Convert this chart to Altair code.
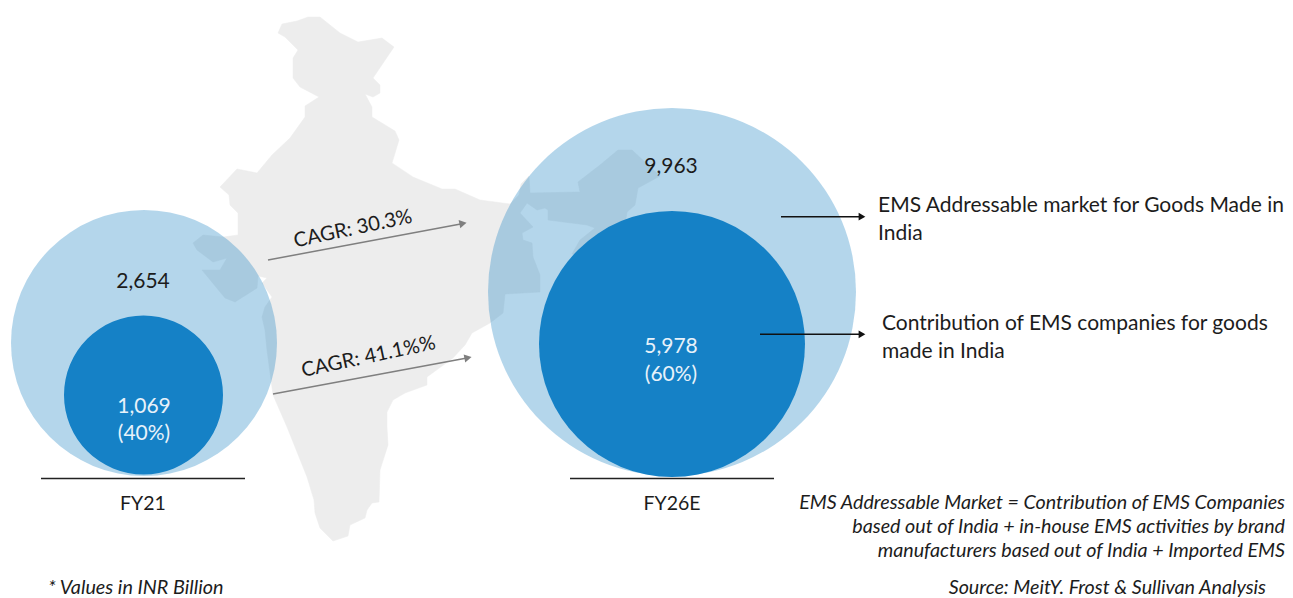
import altair as alt
import pandas as pd

# Reference frame of the picture: the chart is laid out in the image's own units
X_DOMAIN = [8, 1285]
Y_DOMAIN = [598, 8]

map_x = [308,320,340,358,382,394,373,380,380,373,365,372,372,395,399,392,413,442,455,480,510,519,521,529,530,
         580,578,600,618,632,660,638,635,627,620,572,580,595,587,548,548,545,537,527,520,533,522,523,532,533,540,540,
         505,503,490,472,465,453,427,427,405,393,387,387,388,380,379,372,367,365,350,348,333,320,315,314,307,287,273,
         267,265,262,265,272,262,267,258,257,235,225,202,220,227,213,197,193,203,223,238,238,230,229,220,237,257,272,
         290,305,305,319,300,293,293,298,285,278,282,297,308]
map_y = [17,17,33,42,38,47,78,85,93,97,94,107,117,131,140,163,177,189,189,200,204,195,184,176,193,
         192,182,165,150,150,176,188,205,212,260,254,240,228,225,220,210,208,210,203,213,227,233,240,243,257,275,292,
         294,313,323,333,345,358,377,385,393,400,412,427,445,470,502,503,510,518,525,536,541,528,513,500,477,427,395,
         350,330,317,307,297,283,278,276,288,302,298,270,270,258,262,250,243,235,237,235,213,205,195,187,169,173,155,
         138,117,106,97,87,78,58,50,37,33,24,21,17]

circle_x = [144, 672]
circle_y = [343, 292]
circle_d = [266, 368]
inner_x = [143.5, 672]
inner_y = [395, 344]
inner_d = [159, 266]

base_x = [41, 570]
base_x2 = [245, 774]
base_y = [478.5, 478.5]

grey_x = [268, 273]
grey_x2 = [462, 467]
grey_y = [260, 394]
grey_y2 = [223.7, 358]
grey_head_x = [463, 468]
grey_head_y = [223.5, 357.8]

black_x = [781, 760]
black_x2 = [862, 862]
black_y = [216.7, 334.3]
black_head_x = [862, 862]

center_texts = ["2,654", "9,963"]
center_x = [143, 671]
center_y = [282, 167]
fy_texts = ["FY21", "FY26E"]
fy_x = [143, 672]
fy_y = [504, 504]
white_texts = ["1,069", "(40%)", "5,978", "(60%)"]
white_x = [144, 144, 671, 671]
white_y = [407, 434, 347, 375]
cagr_texts = ["CAGR: 30.3%", "CAGR: 41.1%%"]
cagr_x = [353, 368.5]
cagr_y = [229, 357]
left_texts = ["EMS Addressable market for Goods Made in", "India",
              "Contribution of EMS companies for goods", "made in India"]
left_x = [878, 878, 882, 882]
left_y = [206, 234, 324, 352]
note_texts = ["EMS Addressable Market = Contribution of EMS Companies",
              "based out of India + in-house EMS activities by brand",
              "manufacturers based out of India + Imported EMS",
              "Source: MeitY. Frost & Sullivan Analysis"]
note_x = [1285, 1285, 1285, 1266]
note_y = [503, 527, 551, 588]
foot_texts = ["* Values in INR Billion"]
foot_x = [48]
foot_y = [588]

FONT = "Lato"
X = alt.X("x:Q", scale=alt.Scale(domain=X_DOMAIN, nice=False, zero=False), axis=None)
Y = alt.Y("y:Q", scale=alt.Scale(domain=Y_DOMAIN, nice=False, zero=False), axis=None)

df_map = pd.DataFrame({"x": map_x, "y": map_y, "o": range(len(map_x))})
india = alt.Chart(df_map).mark_line(fill="#ededed", stroke="#ededed", strokeWidth=0.5, interpolate="linear-closed").encode(
    x=X, y=Y, order="o:Q")

def circles(xs, ys, ds, color, opacity):
    df = pd.DataFrame({"x": xs, "y": ys, "s": [d * d for d in ds]})
    return alt.Chart(df).mark_circle(color=color, opacity=opacity, stroke=None).encode(
        x=X, y=Y, size=alt.Size("s:Q", scale=None, legend=None))

outer = circles(circle_x, circle_y, circle_d, "#1b82c2", 0.33)
inner = circles(inner_x, inner_y, inner_d, "#1581c6", 1)

def segments(xs, ys, x2s, y2s, color, width):
    df = pd.DataFrame({"x": xs, "y": ys, "x2": x2s, "y2": y2s})
    return alt.Chart(df).mark_rule(color=color, strokeWidth=width).encode(
        x=X, y=Y, x2="x2:Q", y2="y2:Q")

baselines = segments(base_x, base_y, base_x2, base_y, "#222222", 1.3)
grey_arrows = segments(grey_x, grey_y, grey_x2, grey_y2, "#7f7f7f", 1.5)
black_arrows = segments(black_x, black_y, black_x2, black_y, "#111111", 1.5)

def heads(xs, ys, color, angle, size):
    df = pd.DataFrame({"x": xs, "y": ys})
    return alt.Chart(df).mark_point(shape="triangle-right", filled=True, color=color, opacity=1,
                                    size=size, angle=angle).encode(x=X, y=Y)

grey_heads = heads(grey_head_x, grey_head_y, "#7f7f7f", 349, 70)
black_heads = heads(black_head_x, black_y, "#111111", 0, 60)

def texts(labels, xs, ys, size, color="#1c1c1c", align="center", **kw):
    df = pd.DataFrame({"x": xs, "y": ys, "t": labels})
    return alt.Chart(df).mark_text(font=FONT, fontSize=size, color=color, align=align,
                                   baseline="middle", **kw).encode(x=X, y=Y, text="t:N")

layers = [
    india, outer, inner, baselines, grey_arrows, grey_heads, black_arrows, black_heads,
    texts(center_texts, center_x, center_y, 21),
    texts(fy_texts, fy_x, fy_y, 19.5),
    texts(white_texts, white_x, white_y, 21, color="#e8f2fa"),
    texts(cagr_texts, cagr_x, cagr_y, 20.2, angle=348),
    texts(left_texts, left_x, left_y, 21, align="left"),
    texts(note_texts, note_x, note_y, 19.7, align="right", fontStyle="italic"),
    texts(foot_texts, foot_x, foot_y, 19.8, align="left", fontStyle="italic"),
]

chart = alt.layer(*layers).properties(
    width=1277, height=590, padding=0,
    autosize=alt.AutoSizeParams(type="none"),
).configure_view(stroke=None)

chart.save("out.html", embed_options={"renderer": "svg", "actions": False})
